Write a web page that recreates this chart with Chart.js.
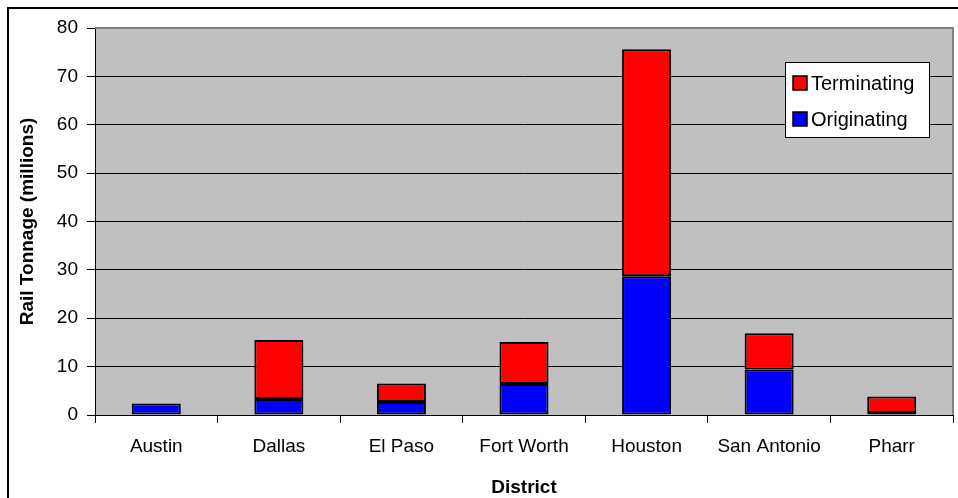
<!DOCTYPE html>
<html>
<head>
<meta charset="utf-8">
<script src="https://cdn.jsdelivr.net/npm/chart.js@4"></script>
<style>
  html, body { margin: 0; padding: 0; background: #fff; }
  #wrap { width: 958px; height: 498px; position: relative; }
</style>
</head>
<body>
<div id="wrap"><canvas id="railChart" width="958" height="498"></canvas></div>
<script>
// categories and values (millions of tons)
const districts = ['Austin', 'Dallas', 'El Paso', 'Fort Worth', 'Houston', 'San Antonio', 'Pharr'];
const originating = [2.4, 3.3, 2.7, 6.4, 28.7, 9.4, 0.4];
const terminating = [0, 12.2, 3.8, 8.7, 46.9, 7.5, 3.4];
const yTicks = [0, 10, 20, 30, 40, 50, 60, 70, 80];

const FONT = 'Liberation Sans, Arial, sans-serif';

// plot background, outer frame and the boxed legend like the Excel original
const excelLook = {
    id: 'excelLook',
    beforeDraw(chart) {
        const c = chart.ctx, a = chart.chartArea;
        c.save();
        c.fillStyle = '#fff';
        c.fillRect(0, 0, chart.width, chart.height);
        c.strokeStyle = '#000';
        c.lineWidth = 2;
        c.strokeRect(8, 8, chart.width + 10, chart.height + 10);
        c.fillStyle = '#c0c0c0';
        c.fillRect(a.left, a.top, a.right - a.left, a.bottom - a.top);
        c.restore();
    },
    afterDatasetsDraw(chart) {
        const c = chart.ctx, a = chart.chartArea;
        c.save();
        c.strokeStyle = '#808080';
        c.lineWidth = 2;
        c.beginPath();
        c.moveTo(a.left, a.top);
        c.lineTo(a.right, a.top);
        c.lineTo(a.right, a.bottom);
        c.stroke();
        c.restore();
    },
    afterDraw(chart) {
        const c = chart.ctx;
        const x = 785, y = 62, w = 144, h = 75;
        c.save();
        c.fillStyle = '#fff';
        c.fillRect(x, y, w, h);
        c.strokeStyle = '#000';
        c.lineWidth = 1;
        c.strokeRect(x + 0.5, y + 0.5, w, h);
        const items = [chart.data.datasets[1], chart.data.datasets[0]];
        c.font = '20px ' + FONT;
        c.textBaseline = 'middle';
        items.forEach((ds, i) => {
            const cy = y + 21 + i * 36;
            c.fillStyle = ds.backgroundColor;
            c.fillRect(x + 8, cy - 7, 14, 14);
            c.strokeStyle = '#000';
            c.lineWidth = 1.5;
            c.strokeRect(x + 8, cy - 7, 14, 14);
            c.fillStyle = '#000';
            c.fillText(ds.label, x + 26, cy + 1);
        });
        c.restore();
    }
};

new Chart(document.getElementById('railChart'), {
    type: 'bar',
    data: {
        labels: districts,
        datasets: [
            {
                label: 'Originating',
                data: originating,
                backgroundColor: '#0000ff',
                borderColor: '#000',
                borderWidth: 2,
                borderSkipped: false
            },
            {
                label: 'Terminating',
                data: terminating,
                backgroundColor: '#ff0000',
                borderColor: '#000',
                borderWidth: 2,
                borderSkipped: false
            }
        ]
    },
    options: {
        responsive: false,
        animation: false,
        layout: { padding: { left: 0, right: 5, top: 28, bottom: 0 } },
        datasets: { bar: { barPercentage: 0.4, categoryPercentage: 1 } },
        plugins: { legend: { display: false }, tooltip: { enabled: false } },
        scales: {
            x: {
                stacked: true,
                grid: { offset: true, drawOnChartArea: false, color: '#000', tickLength: 8 },
                border: { color: '#000', width: 1 },
                ticks: { color: '#000', font: { family: FONT, size: 19 }, padding: 12, maxRotation: 0 },
                title: { display: true, text: 'District', color: '#000', font: { family: FONT, size: 19, weight: 'bold', lineHeight: 1 }, padding: { top: 2, bottom: 1 } },
                afterFit(scale) { scale.height = 83; }
            },
            y: {
                stacked: true,
                min: 0,
                max: 80,
                afterBuildTicks(scale) { scale.ticks = yTicks.map(v => ({ value: v })); },
                grid: { color: '#000', tickLength: 8, lineWidth: 1 },
                border: { color: '#000', width: 1 },
                ticks: { color: '#000', font: { family: FONT, size: 19 }, padding: 9 },
                title: { display: true, text: 'Rail Tonnage (millions)', color: '#000', font: { family: FONT, size: 19, weight: 'bold', lineHeight: 1 }, padding: { top: 18, bottom: 0 } },
                afterFit(scale) { scale.width = 95; }
            }
        }
    },
    plugins: [excelLook]
});
</script>
</body>
</html>
